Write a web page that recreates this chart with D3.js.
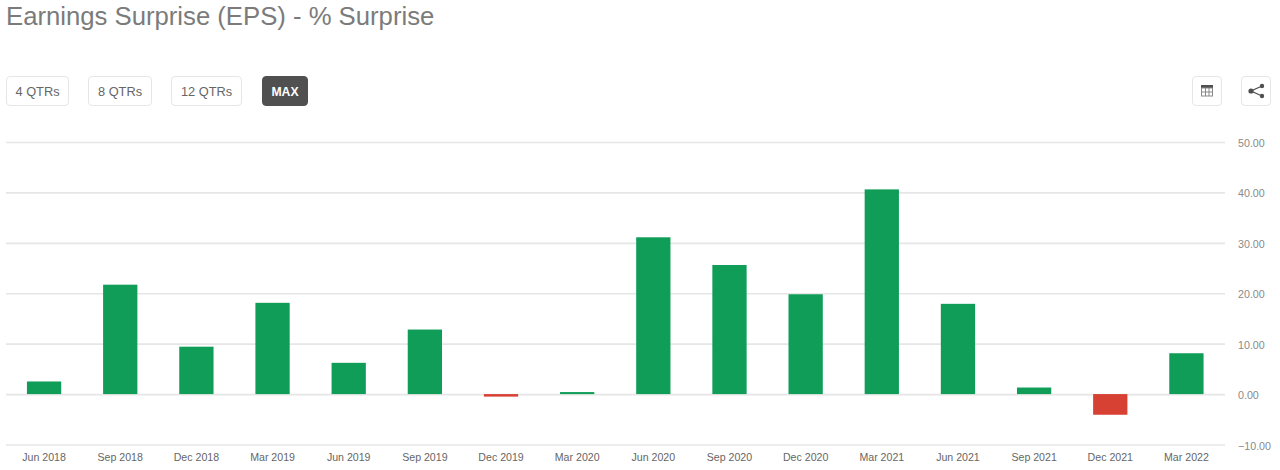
<!DOCTYPE html>
<html>
<head>
<meta charset="utf-8">
<script src="https://cdn.jsdelivr.net/npm/d3@7"></script>
<style>
  html, body { margin: 0; padding: 0; background: #fff; overflow: hidden; }
  text { font-family: "Liberation Sans", Arial, sans-serif; }
</style>
</head>
<body>
<div id="myChart"></div>
<script>
var quarters = ["Jun 2018", "Sep 2018", "Dec 2018", "Mar 2019", "Jun 2019", "Sep 2019", "Dec 2019", "Mar 2020",
  "Jun 2020", "Sep 2020", "Dec 2020", "Mar 2021", "Jun 2021", "Sep 2021", "Dec 2021", "Mar 2022"];
var surprise = [2.5, 21.7, 9.4, 18.1, 6.2, 12.8, -0.5, 0.4, 31.1, 25.6, 19.8, 40.6, 17.9, 1.3, -4.1, 8.1];
var yTicks = [-10, 0, 10, 20, 30, 40, 50];
var rangeButtons = ["4 QTRs", "8 QTRs", "12 QTRs", "MAX"];
var buttonLefts = [6, 88, 171, 262];
var buttonWidths = [63, 64, 71, 46];

var width = 1280, height = 470;
var svg = d3.select("#myChart").append("svg")
  .attr("width", width).attr("height", height)
  .style("display", "block");

var x = d3.scaleBand().domain(quarters).range([6, 1224.5]).paddingInner(0.55).paddingOuter(0.275);
var y = d3.scaleLinear().domain([-10, 50]).range([444.5, 142]);

svg.append("text")
  .attr("x", 6).attr("y", 25)
  .attr("font-size", 25.7).attr("fill", "#7b7b7b")
  .text("Earnings Surprise (EPS) - % Surprise");

// range buttons
var btn = svg.selectAll("g.btn").data(rangeButtons).enter().append("g").attr("class", "btn");
btn.append("rect")
  .attr("x", function(d, i) { return buttonLefts[i] + 0.5; })
  .attr("y", 76.5)
  .attr("width", function(d, i) { return buttonWidths[i] - 1; })
  .attr("height", 29).attr("rx", 3.5)
  .attr("fill", function(d) { return d == "MAX" ? "#505050" : "#fff"; })
  .attr("stroke", function(d) { return d == "MAX" ? "#505050" : "#e6e6e6"; });
btn.append("text")
  .attr("x", function(d, i) { return buttonLefts[i] + buttonWidths[i] / 2; })
  .attr("y", 95.5)
  .attr("text-anchor", "middle")
  .attr("font-size", function(d) { return d == "MAX" ? 12.2 : 12.8; })
  .attr("font-weight", function(d) { return d == "MAX" ? "bold" : "normal"; })
  .attr("fill", function(d) { return d == "MAX" ? "#fff" : "#666"; })
  .text(function(d) { return d; });

// table icon button
var tableBtn = svg.append("g").attr("transform", "translate(1192,76)");
tableBtn.append("rect").attr("x", 0.5).attr("y", 0.5).attr("width", 29).attr("height", 29).attr("rx", 3.5)
  .attr("fill", "#fff").attr("stroke", "#e6e6e6");
tableBtn.append("rect").attr("x", 9).attr("y", 9).attr("width", 12).attr("height", 3).attr("fill", "#505050");
tableBtn.append("rect").attr("x", 9.5).attr("y", 12).attr("width", 11).attr("height", 8)
  .attr("fill", "#fff").attr("stroke", "#8a8a8a");
tableBtn.append("path").attr("d", "M13.5 12V20M17 12V20M9 16H21").attr("stroke", "#8a8a8a").attr("fill", "none");

// share icon button
var shareBtn = svg.append("g").attr("transform", "translate(1241,76)");
shareBtn.append("rect").attr("x", 0.5).attr("y", 0.5).attr("width", 29).attr("height", 29).attr("rx", 3.5)
  .attr("fill", "#fff").attr("stroke", "#e6e6e6");
shareBtn.append("path").attr("d", "M21 10L10 15L21 20").attr("stroke", "#505050").attr("stroke-width", 1.3).attr("fill", "none");
shareBtn.selectAll("circle").data([[21, 10, 2.2], [10, 15, 2.6], [21, 20, 2.2]]).enter().append("circle")
  .attr("cx", function(d) { return d[0]; }).attr("cy", function(d) { return d[1]; }).attr("r", function(d) { return d[2]; })
  .attr("fill", "#505050");

// gridlines and y labels
var yAxis = svg.append("g")
  .attr("transform", "translate(6,0)")
  .call(d3.axisRight(y).tickValues(yTicks).tickSize(1219).tickPadding(13).tickFormat(d3.format(".2f")));
yAxis.select(".domain").remove();
yAxis.selectAll("line").attr("stroke", "#e6e6e6").attr("stroke-width", 1.6);
yAxis.selectAll("text").attr("fill", "#8a8a8a").attr("font-size", 10.7).attr("dy", "0.42em")
  .style("font-family", '"Liberation Sans", Arial, sans-serif');

// bars
svg.selectAll("rect.bar").data(surprise).enter().append("rect")
  .attr("class", "bar")
  .attr("x", function(d, i) { return x(quarters[i]); })
  .attr("width", x.bandwidth())
  .attr("y", function(d) { return y(Math.max(d, 0)); })
  .attr("height", function(d) { return Math.abs(y(d) - y(0)); })
  .attr("fill", function(d) { return d < 0 ? "#d64133" : "#0f9d58"; });

// x labels
var xAxis = svg.append("g")
  .attr("transform", "translate(0,444.5)")
  .call(d3.axisBottom(x).tickSize(0).tickPadding(9));
xAxis.select(".domain").remove();
xAxis.selectAll("text").attr("fill", "#666").attr("font-size", 10.6)
  .style("font-family", '"Liberation Sans", Arial, sans-serif');
</script>
</body>
</html>
